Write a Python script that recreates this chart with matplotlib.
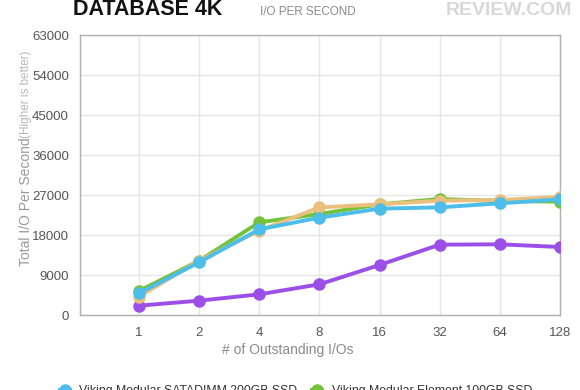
import matplotlib
matplotlib.use("Agg")
import matplotlib.pyplot as plt
from matplotlib import font_manager

plt.rcParams['font.family'] = ['Liberation Sans', 'DejaVu Sans']

categories = ["1", "2", "4", "8", "16", "32", "64", "128"]
satadimm_200 = [4880, 11850, 19275, 21900, 23925, 24225, 25125, 26025]
element_100 = [5400, 12200, 20850, 22725, 24900, 26100, 25650, 25500]
series_orange = [4120, 12220, 18975, 24200, 24900, 25725, 25875, 26550]
series_purple = [2100, 3225, 4650, 6900, 11250, 15825, 15900, 15300]
y_ticks = [0, 9000, 18000, 27000, 36000, 45000, 54000, 63000]

names = {f.name for f in font_manager.fontManager.ttflist}
title_family = ['Liberation Sans Narrow'] if 'Liberation Sans Narrow' in names else ['Liberation Sans']
title_size = 19 if 'Liberation Sans Narrow' in names else 15.5

W, H = 580, 390
fig = plt.figure(figsize=(W/100, H/100), dpi=100)
ax = fig.add_axes([80/W, 1-315/H, 480/W, 280/H])

x = list(range(len(categories)))
lw = 2.8
ms = 8
ax.plot(x, series_purple, color="#9b4fe8", lw=lw, marker="o", ms=ms, zorder=3)
ax.plot(x, element_100, color="#74c23a", lw=lw, marker="o", ms=ms, zorder=4,
        label="Viking Modular Element 100GB SSD")
ax.plot(x, series_orange, color="#ebc07e", lw=lw, marker="o", ms=ms, zorder=5)
ax.plot(x, satadimm_200, color="#4dbde9", lw=lw, marker="o", ms=ms, zorder=6,
        label="Viking Modular SATADIMM 200GB SSD")

ax.set_xlim(-0.98, 7)
ax.set_ylim(0, 63000)
ax.set_yticks(y_ticks)
ax.set_yticklabels([str(v) for v in y_ticks])
ax.set_xticks(x)
ax.set_xticklabels(categories)
ax.grid(True, color="#e6e6e6", lw=1)
ax.set_axisbelow(True)
for s in ax.spines.values():
    s.set_color("#b0b0b0")
    s.set_linewidth(1)
ax.tick_params(length=0, labelsize=9.5, labelcolor="#555555")
ax.tick_params(axis="y", pad=8)
ax.tick_params(axis="x", pad=9)

fig.text(288/W, 1-350/H, "# of Outstanding I/Os", ha="center", va="center",
         fontsize=10, color="#8a8a8a")
fig.text(26/W, 1-202/H, "Total I/O Per Second", rotation=90, ha="center", va="center",
         fontsize=10, color="#9a9a9a")
fig.text(26/W, 1-94/H, "(Higher is better)", rotation=90, ha="center", va="center",
         fontsize=8.5, color="#b8b8b8")

fig.text(73/W, 1-15/H, "DATABASE 4K", ha="left", va="baseline", fontsize=title_size,
         fontweight="bold", color="#111111", family=title_family)
fig.text(260/W, 1-15/H, "I/O PER SECOND", ha="left", va="baseline", fontsize=8.4,
         color="#8a8a8a")
fig.text(572/W, 1-15/H, "REVIEW.COM", ha="right", va="baseline", fontsize=14,
         fontweight="bold", color="#d8d8d8")

handles, labels = ax.get_legend_handles_labels()
order = [1, 0]
fig.legend([handles[i] for i in order], [labels[i] for i in order],
           loc="upper center", bbox_to_anchor=(296/W, 1-374/H), ncol=2,
           frameon=False, fontsize=8.8, labelcolor="#333333",
           handlelength=0.8, columnspacing=1.2, handletextpad=0.8)

fig.savefig("out.png", dpi=100)
